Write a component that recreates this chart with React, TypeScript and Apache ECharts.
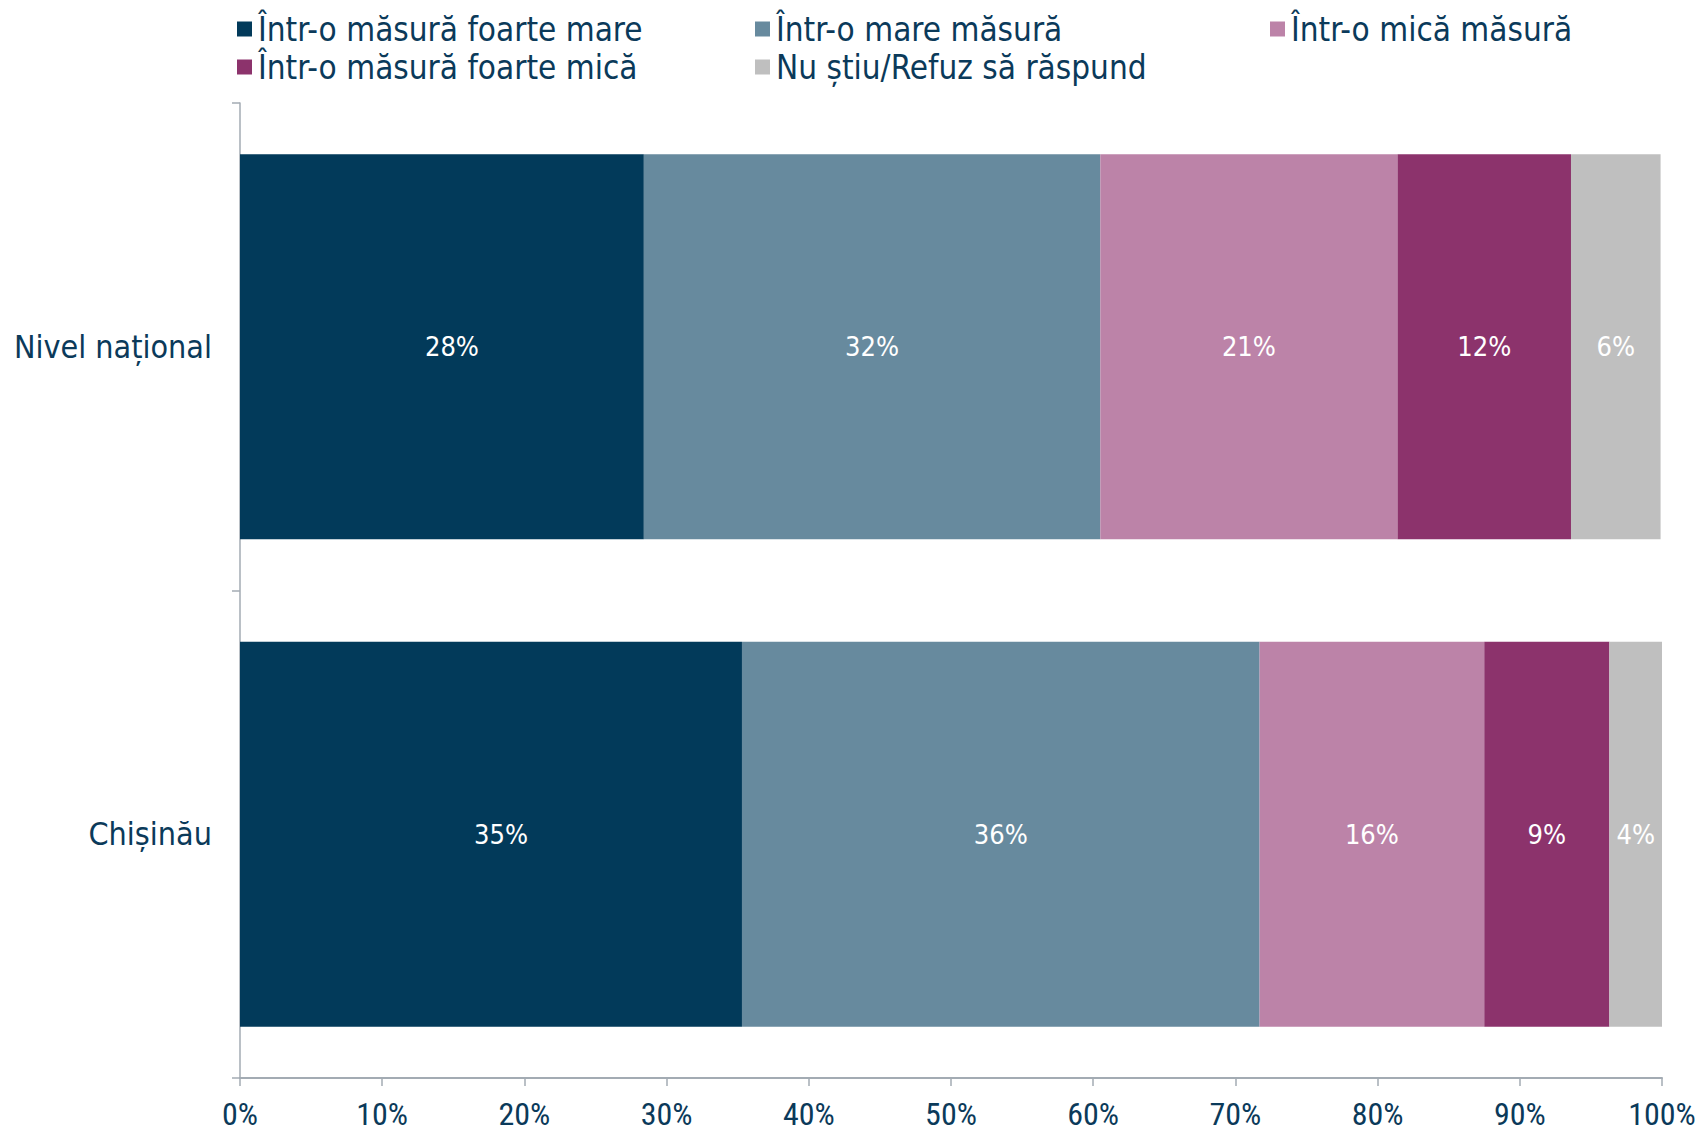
import React, { useEffect, useRef } from "react";
import * as echarts from "echarts";

const categories = ["Nivel național", "Chișinău"];
const seriesNames = [
  "Într-o măsură foarte mare",
  "Într-o mare măsură",
  "Într-o mică măsură",
  "Într-o măsură foarte mică",
  "Nu știu/Refuz să răspund",
];
const colors = ["#023a5a", "#678a9e", "#bc83a8", "#8c336c", "#bfbfbf"];
const foarteMare = [28.4, 35.3];
const mare = [32.1, 36.4];
const mica = [20.9, 15.8];
const foarteMica = [12.2, 8.8];
const nuStiu = [6.3, 3.7];
const values = [foarteMare, mare, mica, foarteMica, nuStiu];
const xTicks = [0, 10, 20, 30, 40, 50, 60, 70, 80, 90, 100];

const textColor = "#0b3a5a";
const font = "'DejaVu Sans Condensed', 'DejaVu Sans', sans-serif";
const narrow = "'Roboto Condensed', 'DejaVu Sans Condensed', sans-serif";

export default function App() {
  const ref = useRef<HTMLDivElement>(null);
  useEffect(() => {
    if (!ref.current) return;
    const chart = echarts.init(ref.current, null, { renderer: "svg" });
    const legendCommon = {
      orient: "vertical",
      top: 7,
      itemWidth: 15,
      itemHeight: 15,
      itemGap: 4,
      icon: "rect",
      textStyle: {
        color: textColor,
        fontSize: 33,
        lineHeight: 34,
        fontFamily: font,
        padding: [0, 0, 0, 1],
      },
    };
    chart.setOption({
      animation: false,
      backgroundColor: "#ffffff",
      legend: [
        { ...legendCommon, left: 232, data: [seriesNames[0], seriesNames[3]] },
        { ...legendCommon, left: 750, data: [seriesNames[1], seriesNames[4]] },
        { ...legendCommon, left: 1265, data: [seriesNames[2]] },
      ],
      grid: {
        left: 240,
        right: 38,
        top: 103,
        bottom: 54,
        containLabel: false,
        outerBoundsMode: "none",
      },
      xAxis: {
        type: "value",
        min: xTicks[0],
        max: xTicks[xTicks.length - 1],
        interval: 10,
        splitLine: { show: false },
        axisLine: { show: true, lineStyle: { color: "#a3abb3", width: 2 } },
        axisTick: { show: true, length: 8, lineStyle: { color: "#a3abb3", width: 1.5 } },
        axisLabel: {
          formatter: "{value}%",
          color: textColor,
          fontSize: 32,
          lineHeight: 30,
          fontFamily: narrow,
          margin: 21,
        },
      },
      yAxis: {
        type: "category",
        data: categories,
        inverse: true,
        axisLine: { show: true, lineStyle: { color: "#a3abb3", width: 1.5 } },
        axisTick: { show: true, length: 8, lineStyle: { color: "#a3abb3", width: 1.5 } },
        axisLabel: { color: textColor, fontSize: 32, fontFamily: font, margin: 28 },
      },
      series: seriesNames.map((name, i) => ({
        name,
        type: "bar",
        stack: "total",
        barWidth: "79%",
        data: values[i],
        itemStyle: { color: colors[i] },
        label: {
          show: true,
          position: "inside",
          color: "#ffffff",
          fontSize: 27,
          fontFamily: font,
          offset: i === 0 ? [10, 0] : [0, 0],
          formatter: (p: any) => Math.round(p.value) + "%",
        },
      })),
    });
    return () => chart.dispose();
  }, []);
  return (
    <div
      ref={ref}
      style={{ position: "fixed", left: 0, top: 0, width: 1700, height: 1132 }}
    />
  );
}
